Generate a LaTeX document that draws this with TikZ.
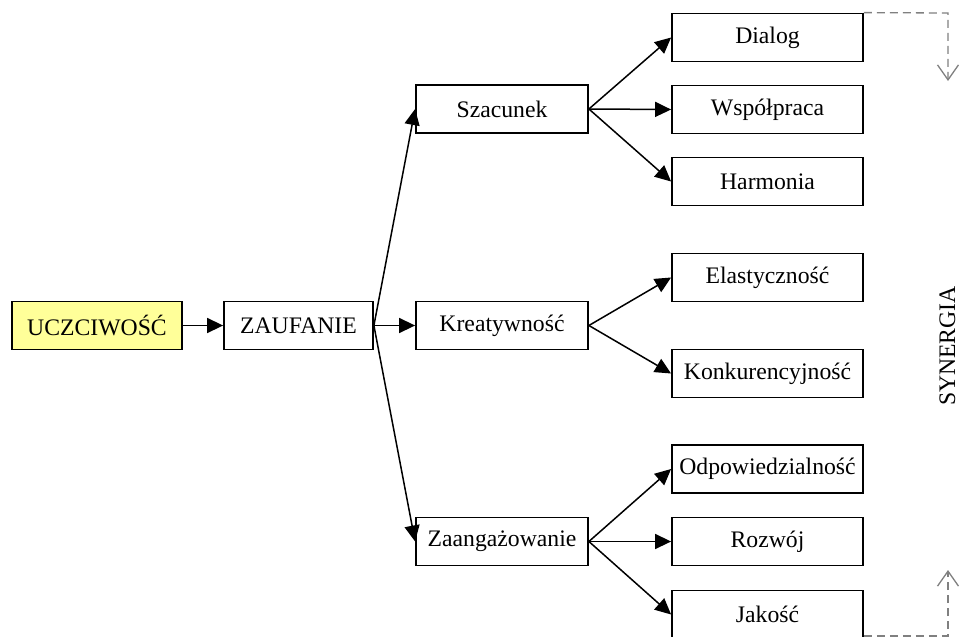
\documentclass[tikz,border=0pt]{standalone}
\usepackage{fontspec}
\setmainfont{Liberation Serif}
\usetikzlibrary{arrows.meta}
\definecolor{uczyellow}{RGB}{255,255,153}

\begin{document}
\begin{tikzpicture}[x=1pt,y=-1pt,
    box/.style = {draw, line width=1.8pt, minimum height=48pt, inner sep=0pt,
      font=\fontsize{23.7}{28}\selectfont},
    mid box/.style   = {box, minimum width=172pt},
    right box/.style = {box, minimum width=191pt},
    arr/.style = {line width=1.5pt, -{Triangle[length=16pt,width=15pt]}},
    syn line/.style = {draw=gray, line width=1.3pt, dash pattern=on 8pt off 5pt,
      -{Straight Barb[length=15pt,width=21pt]}}
  ]
  \useasboundingbox (0,0) rectangle (959,637);
  \node[box, fill=uczyellow, minimum width=170pt] (ucz) at (97,325.5) {UCZCIWOŚĆ};
  \node[box, minimum width=149pt] (zauf) at (298.5,325.5) {ZAUFANIE};
  \node[mid box] (szac)  at (502,109)   {Szacunek};
  \node[mid box] (kreat) at (502,325.5) {Kreatywność};
  \node[mid box] (zaang) at (502,541.5) {Zaangażowanie};
  \node[right box] (dial)  at (767.5,37.5)  {Dialog};
  \node[right box] (wsp)   at (767.5,109.5) {Współpraca};
  \node[right box] (harm)  at (767.5,181.5) {Harmonia};
  \node[right box] (elast) at (767.5,277.5) {Elastyczność};
  \node[right box] (konk)  at (767.5,373.5) {Konkurencyjność};
  \node[right box] (odp)   at (767.5,469)   {Odpowiedzialność};
  \node[right box] (rozw)  at (767.5,541.5) {Rozwój};
  \node[right box] (jak)   at (767.5,614.5) {Jakość};
  \node[rotate=90, inner sep=0pt, font=\fontsize{23.7}{28}\selectfont] (syn) at (947.5,346) {SYNERGIA};

  \draw[arr] (ucz.east) -- (zauf.west);
  \draw[arr] (zauf.east) -- (szac.west);
  \draw[arr] (zauf.east) -- (kreat.west);
  \draw[arr] (zauf.east) -- (zaang.west);
  \draw[arr] (szac.east) -- (dial.west);
  \draw[arr] (szac.east) -- (wsp.west);
  \draw[arr] (szac.east) -- (harm.west);
  \draw[arr] (kreat.east) -- (elast.west);
  \draw[arr] (kreat.east) -- (konk.west);
  \draw[arr] (zaang.east) -- (odp.west);
  \draw[arr] (zaang.east) -- (rozw.west);
  \draw[arr] (zaang.east) -- (jak.west);

  \coordinate (syn top) at (948,13);
  \coordinate (syn top end) at (948,81);
  \coordinate (syn bot) at (948,636);
  \coordinate (syn bot end) at (948,570);
  \draw[syn line] (dial.north east) -- (syn top) -- (syn top end);
  \draw[syn line] (jak.east |- syn bot) -- (syn bot) -- (syn bot end);
\end{tikzpicture}
\end{document}
